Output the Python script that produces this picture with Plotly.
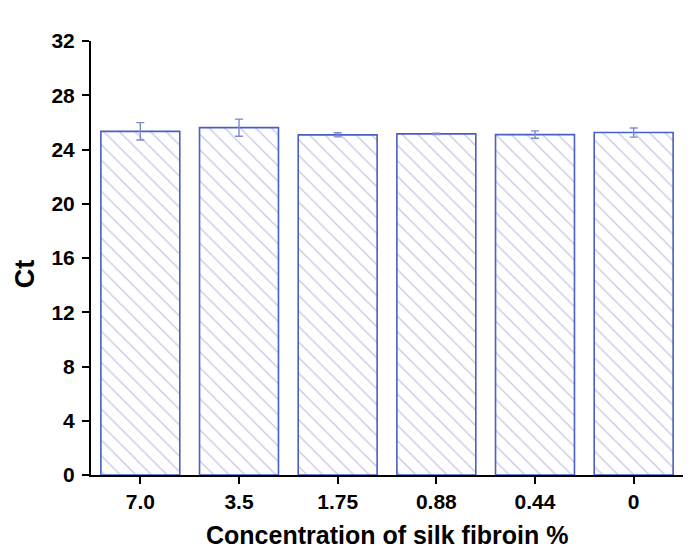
import plotly.graph_objects as go

# Ct values by silk fibroin concentration
categories = ["7.0", "3.5", "1.75", "0.88", "0.44", "0"]
ct_mean = [25.34, 25.61, 25.08, 25.15, 25.10, 25.25]
ct_err = [0.64, 0.63, 0.15, 0.05, 0.27, 0.34]
y_ticks = [0, 4, 8, 12, 16, 20, 24, 28, 32]

edge_blue = "#4a5fc4"
hatch_blue = "#8a90d0"
font_family = "Liberation Sans, Arial, sans-serif"

fig = go.Figure()
fig.add_trace(go.Bar(
    x=categories,
    y=ct_mean,
    width=0.8,
    marker=dict(
        color="white",
        line=dict(color=edge_blue, width=1.6),
        pattern=dict(shape="\\", fgcolor=hatch_blue, bgcolor="white",
                     size=11, solidity=0.12),
    ),
    error_y=dict(type="data", array=ct_err, visible=True,
                 color="#7f88cf", thickness=1.4, width=4),
    showlegend=False,
))

title_font = dict(family=font_family, weight="bold", color="black")
fig.update_layout(
    width=694, height=550,
    margin=dict(l=91, r=11, t=41, b=75),
    plot_bgcolor="white", paper_bgcolor="white",
    bargap=0.2,
    font=dict(family=font_family, color="black"),
    xaxis=dict(
        range=[-0.5, 5.5], automargin=False,
        showline=True, linecolor="black", linewidth=2,
        ticks="outside", ticklen=7, tickwidth=2, tickcolor="black",
        tickfont=dict(size=21, family=font_family, weight="bold"),
        showgrid=False, zeroline=False,
    ),
    yaxis=dict(
        range=[0, 32], tickvals=y_ticks, automargin=False,
        showline=True, linecolor="black", linewidth=2,
        ticks="outside", ticklen=7, tickwidth=2, tickcolor="black",
        ticklabelstandoff=3,
        tickfont=dict(size=21, family=font_family, weight="bold"),
        showgrid=False, zeroline=False,
    ),
    annotations=[
        dict(text="Ct", textangle=-90, showarrow=False,
             xref="paper", yref="paper", x=-0.111, y=0.463,
             xanchor="center", yanchor="middle",
             font=dict(size=27, **title_font)),
        dict(text="Concentration of silk fibroin %", showarrow=False,
             xref="paper", yref="paper", x=0.5, y=-0.138,
             xanchor="center", yanchor="middle",
             font=dict(size=25, **title_font)),
    ],
)

fig.write_html("out.html")
